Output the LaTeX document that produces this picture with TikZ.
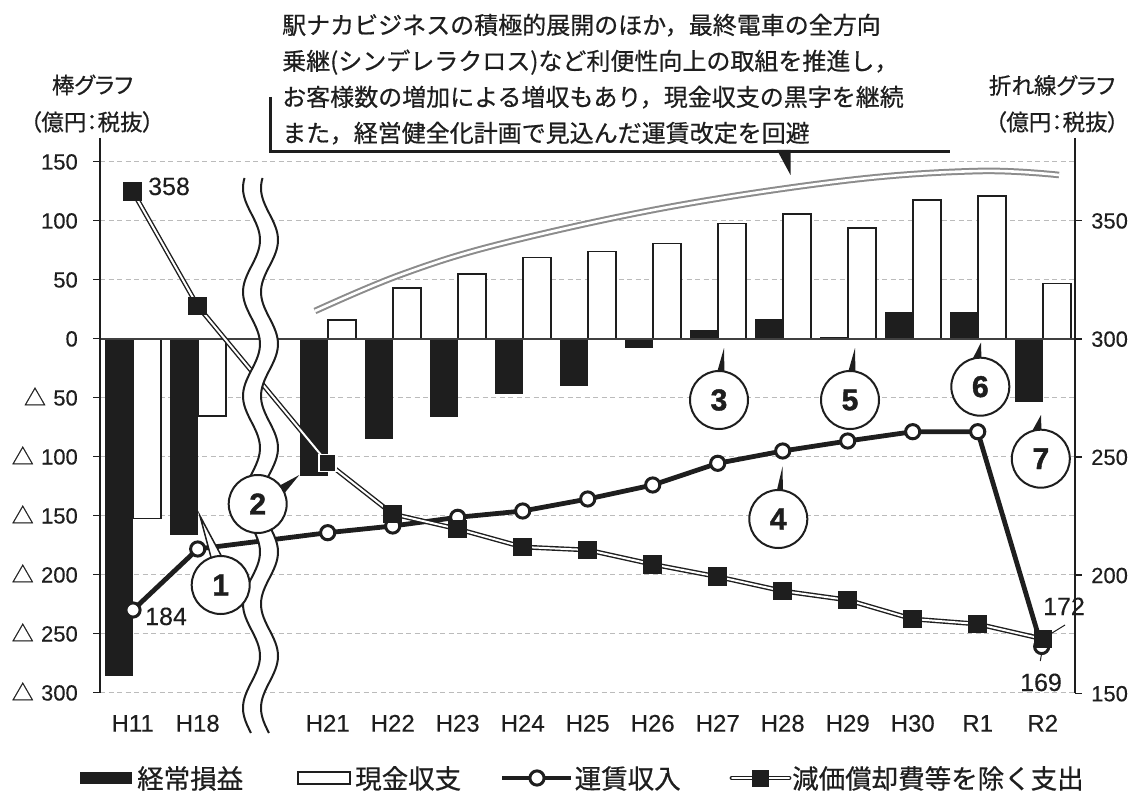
\documentclass[tikz,border=0pt]{standalone}
\usepackage{fontspec}
\setmainfont{Liberation Sans}[FakeBold=0.25]
\newfontfamily\jp{Noto Sans CJK JP}[FakeBold=0.6]
\newfontfamily\jpp{Noto Sans CJK JP}[RawFeature=+palt,FakeBold=0.6]
\newfontfamily\numf{Liberation Sans}[FakeBold=1.5]
\definecolor{ink}{HTML}{1E1E1E}
\definecolor{gridc}{HTML}{BBBBBB}
\definecolor{arcc}{HTML}{8C8C8C}
\begin{document}
\begin{tikzpicture}[x=1pt,y=-1pt,
  gridline/.style={gridc,line width=1.2pt,dash pattern=on 5pt off 3.5pt},
  axisline/.style={ink,line width=1.5pt},
  zeroline/.style={ink!85,line width=1.8pt},
  blackbar/.style={fill=ink},
  whitebar/.style={draw=ink,fill=white,line width=1.6pt},
  fareline/.style={ink,line width=4.8pt,line join=round},
  costline/.style={ink,line width=1.4pt,double=white,double distance=2pt},
  arcline/.style={arcc,line width=2pt,double=white,double distance=2.6pt},
  fmark/.style={circle,draw=ink,fill=white,line width=3pt,minimum size=14.2pt,inner sep=0pt},
  smark/.style={rectangle,fill=ink,minimum size=18.8pt,inner sep=0pt},
  smarkw/.style={rectangle,fill=ink,draw=white,line width=1.8pt,minimum size=17pt,inner sep=0pt},
  numc/.style={circle,draw=ink,fill=white,line width=2pt,minimum size=58pt,inner sep=0pt,font=\numf\fontsize{30}{30}\selectfont\bfseries,text=ink},
  tailb/.style={fill=ink},
  tailw/.style={draw=ink,fill=white,line width=1.5pt,line join=miter},
  wave/.style={ink,line width=2pt},
  ticklab/.style={inner sep=0pt,font=\fontsize{22}{22}\selectfont,text=ink},
  catlab/.style={inner sep=0pt,font=\fontsize{24}{24}\selectfont,text=ink,anchor=base},
  datalab/.style={inner sep=0pt,font=\fontsize{25}{25}\selectfont,text=ink},
  leader/.style={ink,line width=1pt},
  jtitle/.style={inner sep=0pt,font=\jpp\fontsize{22.5}{22.5}\selectfont,text=ink,anchor=base},
  calltext/.style={inner sep=0pt,font=\jp\fontsize{24}{24}\selectfont,text=ink,anchor=base west},
  legtext/.style={inner sep=0pt,font=\jp\fontsize{26.5}{26.5}\selectfont,text=ink,anchor=base west},
  bracket/.style={ink,line width=3pt,line join=miter}
]
\useasboundingbox (0,0) rectangle (1129,791);

% grid
\foreach \yy in {161.6,220.6,279.6,397.6,456.6,515.6,574.6,633.6,692.6}
  \draw[gridline] (100,\yy) -- (1075,\yy);

% bars
\foreach \i/\v in {0/-286,1/-166,3/-116,4/-85,5/-66,6/-47,7/-40,8/-8,9/8,10/17,11/1.5,12/23,13/23,14/-53}
  \fill[blackbar] ({132.7+65*\i-28},339) rectangle ({132.7+65*\i},{339-1.18*\v});
\foreach \i/\v in {0/-152,1/-65,3/16,4/43,5/55,6/69,7/74,8/81,9/98,10/106,11/94,12/118,13/121,14/47}
  \draw[whitebar] ({132.7+65*\i},339) rectangle ({132.7+65*\i+28},{339-1.18*\v});
\draw[zeroline] (100,339) -- (1075,339);

% axes
\draw[axisline] (100,138) -- (100,693);
\draw[axisline] (1075,138) -- (1075,693);
\foreach \k/\lab in {0/150,1/100,2/50,3/0,4/{{\jp △}\,\,50},5/{{\jp △}\,\,100},6/{{\jp △}\,\,150},7/{{\jp △}\,\,200},8/{{\jp △}\,\,250},9/{{\jp △}\,\,300}}{
  \draw[axisline] (93,{161.6+59*\k}) -- (100,{161.6+59*\k});
  \node[ticklab,anchor=base east] (ll\k) at (78,{161.6+59*\k+7.9}) {\lab};
}
\foreach \k/\lab in {0/350,1/300,2/250,3/200,4/150}{
  \draw[axisline] (1075,{220.6+118.2*\k}) -- (1082,{220.6+118.2*\k});
  \node[ticklab,anchor=base west] (rl\k) at (1091,{220.6+118.2*\k+7.9}) {\lab};
}
\foreach \i/\lab in {0/H11,1/H18,3/H21,4/H22,5/H23,6/H24,7/H25,8/H26,9/H27,10/H28,11/H29,12/H30,13/R1,14/R2}
  \node[catlab] (cat\i) at ({132.7+65*\i},731.6) {\lab};

% gray arc
\draw[arcline] plot[smooth,tension=0.6] coordinates {(315,311) (400,275) (500,244) (669,207) (850,180) (980,171) (1059,175)};

% series coordinates
\foreach \n/\x/\y in {0/133/610,1/197.7/549,3/327.7/532.7,4/392.7/526,5/457.7/517.3,6/522.7/511,7/587.7/499,8/652.7/485,9/717.7/463.3,10/782.7/451,11/847.7/441,12/912.7/431.7,13/977.7/431.7,14/1041.7/646.5}
  \coordinate (f\n) at (\x,\y);
\foreach \n/\x/\y in {0/132.7/191.3,1/197.7/306,3/327.7/463,4/392.7/514,5/457.7/529,6/522.7/547,7/587.7/550,8/652.7/564.3,9/717.7/576.7,10/782.7/591,11/847.7/600,12/912.7/619,13/977.7/624,14/1043/639}
  \coordinate (s\n) at (\x,\y);

\draw[fareline] (f0) -- (f1) -- (f3) -- (f4) -- (f5) -- (f6) -- (f7) -- (f8) -- (f9) -- (f10) -- (f11) -- (f12) -- (f13) -- (f14);
\draw[costline] (s0) -- (s1) -- (s3) -- (s4) -- (s5) -- (s6) -- (s7) -- (s8) -- (s9) -- (s10) -- (s11) -- (s12) -- (s13) -- (s14);
\foreach \n in {0,1,3,4,5,6,7,8,9,10,11,12,13,14}
  \node[fmark] (fm\n) at (f\n) {};
\foreach \n in {0,1,4,5,6,7,8,9,10,11,12,13,14}
  \node[smark] (sm\n) at (s\n) {};
\node[smarkw] (sm3) at (s3) {};

% break band
\fill[white] plot[domain=178:733,samples=160,variable=\t] ({251.5-8.5*cos((\t-188)*3.4615)},\t)
  -- plot[domain=733:178,samples=160,variable=\t] ({269.5-8.5*cos((\t-188)*3.4615)},\t) -- cycle;
\draw[wave] plot[domain=178:733,samples=160,variable=\t] ({251.5-8.5*cos((\t-188)*3.4615)},\t);
\draw[wave] plot[domain=178:733,samples=160,variable=\t] ({269.5-8.5*cos((\t-188)*3.4615)},\t);

% data labels
\node[datalab,anchor=base west] (l358) at (148,195) {358};
\node[datalab,anchor=base west] (l184) at (145,625) {184};
\node[datalab,anchor=base] (l172) at (1064,615) {172};
\node[datalab,anchor=base] (l169) at (1041,691) {169};
\coordinate (a172) at (1052,633);
\coordinate (b172) at (1065,625);
\coordinate (a169) at (1041.5,654);
\coordinate (b169) at (1040.3,661);
\draw[leader] (a172) -- (b172);
\draw[leader] (a169) -- (b169);

% numbered callouts
\draw[tailw] (200,516) -- (212,561) -- (223,559) -- cycle;
\fill[tailb] (299.3,475) -- (277,487) -- (283,495) -- cycle;
\fill[tailb] (724,348) -- (716,376) -- (724.5,376) -- cycle;
\fill[tailb] (782.5,466.5) -- (776,494) -- (783,494) -- cycle;
\fill[tailb] (855,348) -- (847,376) -- (855.5,376) -- cycle;
\fill[tailb] (981,342.5) -- (971,362) -- (981.5,362) -- cycle;
\fill[tailb] (1041,415) -- (1031,433) -- (1041.5,433) -- cycle;
\node[numc] (n1) at (220.7,585) {1};
\node[numc] (n2) at (257.7,504) {2};
\node[numc] (n3) at (719,400) {3};
\node[numc] (n4) at (778.3,519) {4};
\node[numc] (n5) at (850,400) {5};
\node[numc] (n6) at (980.3,386.7) {6};
\node[numc] (n7) at (1040.8,458.7) {7};

% top callout
\draw[bracket] (270,97) -- (270,151.5) -- (950,151.5);
\fill[ink] (777,150) -- (790.5,150) -- (790.5,175) -- cycle;
\node[calltext] (c1) at (282,34) {駅ナカビジネスの積極的展開のほか，最終電車の全方向};
\node[calltext] (c2) at (282,70) {乗継(シンデレラクロス)など利便性向上の取組を推進し，};
\node[calltext] (c3) at (282,106) {お客様数の増加による増収もあり，現金収支の黒字を継続};
\node[calltext] (c4) at (282,142) {また，経営健全化計画で見込んだ運賃改定を回避};

% axis titles
\node[jtitle] (tl1) at (92.5,93.5) {棒グラフ};
\node[jtitle] (tl2) at (92,130.5) {（億円：税抜）};
\node[jtitle] (tr1) at (1052,94) {折れ線グラフ};
\node[jtitle] (tr2) at (1057,130.5) {（億円：税抜）};

% legend
\fill[ink] (80,772) rectangle (132,784);
\node[legtext] (lg1) at (137,788.5) {経常損益};
\draw[whitebar] (298,772) rectangle (350,784);
\node[legtext] (lg2) at (355,788.5) {現金収支};
\coordinate (lfa) at (502,778);
\coordinate (lfb) at (571,778);
\draw[fareline] (lfa) -- (lfb);
\node[fmark] (lfm) at (537,778) {};
\node[legtext] (lg3) at (574.5,788.5) {運賃収入};
\coordinate (lca) at (732,778);
\coordinate (lcb) at (789,778);
\draw[costline,line cap=round] (lca) -- (lcb);
\node[smark,minimum size=17pt] (lsm) at (760.5,778) {};
\node[legtext] (lg4) at (792,788.5) {減価償却費等を除く支出};
\end{tikzpicture}
\end{document}
